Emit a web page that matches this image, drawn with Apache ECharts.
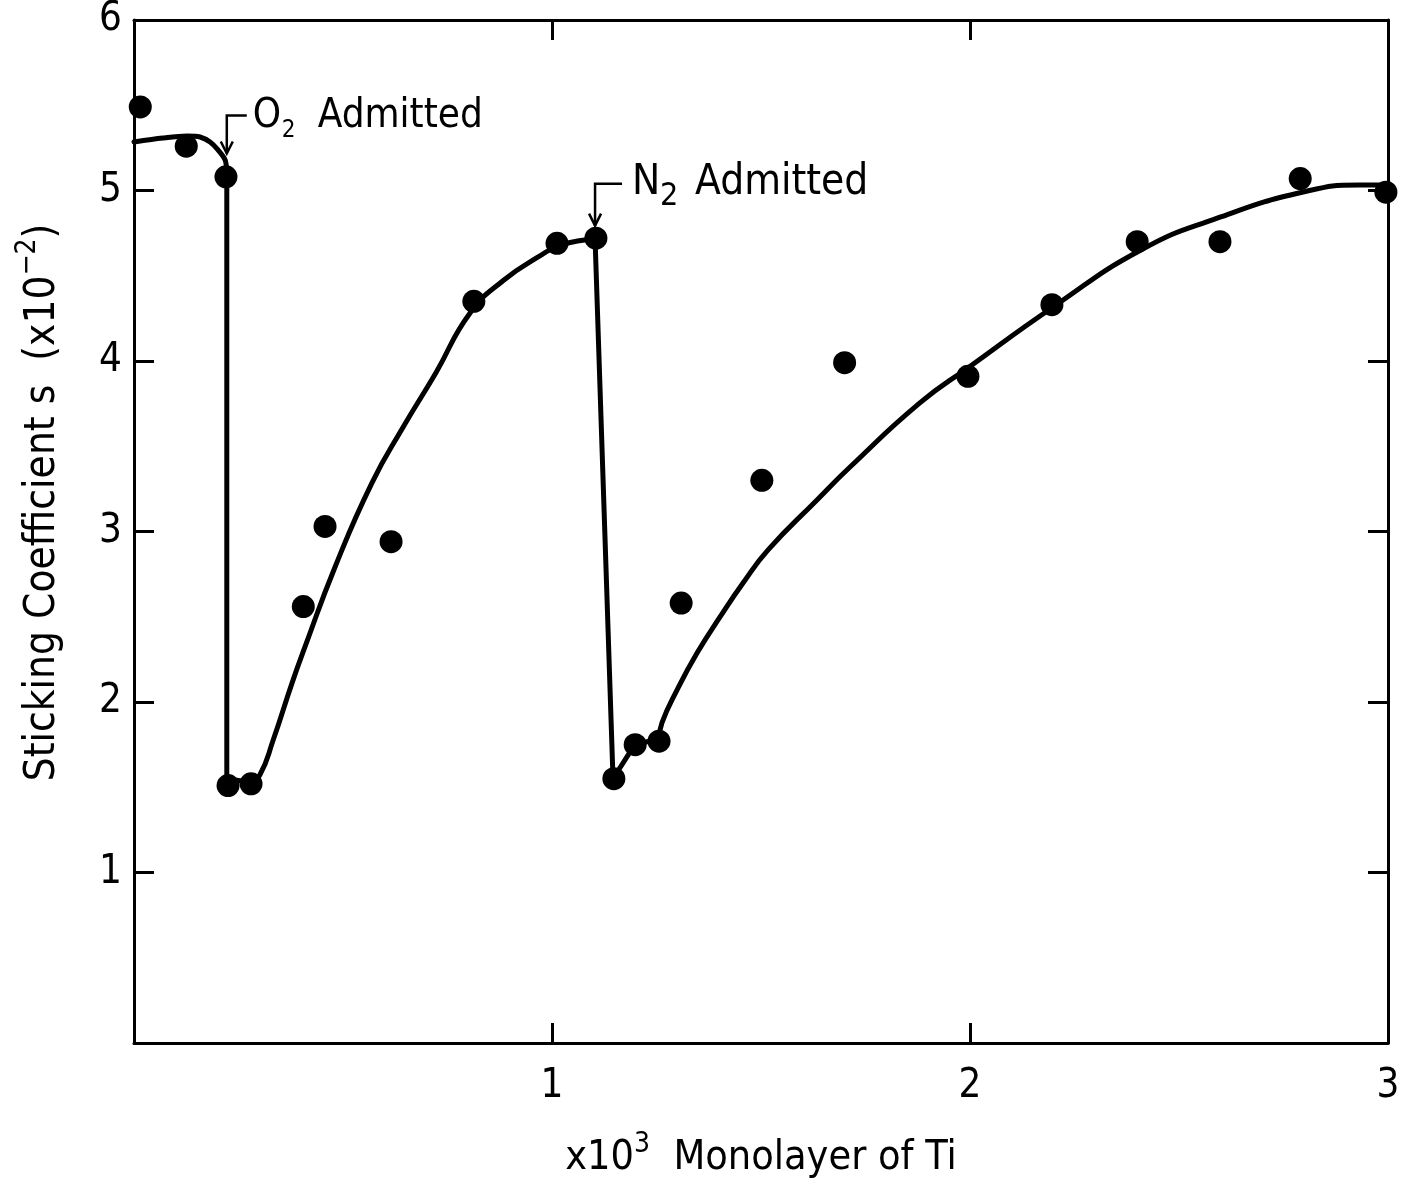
<!DOCTYPE html>
<html><head><meta charset="utf-8">
<script src="https://cdn.jsdelivr.net/npm/echarts@6/dist/echarts.min.js"></script>
<style>html,body{margin:0;padding:0;background:#fff}#c{width:1403px;height:1187px}</style>
</head><body><div id="c"></div>
<script>
// ---- data (x in 10^3 monolayers of Ti, y = sticking coefficient x10^-2) ----
const pointsX = [0.015,0.125,0.22,0.225,0.28,0.405,0.457,0.615,0.813,1.012,1.105,1.148,1.199,1.256,1.309,1.502,1.70,1.995,2.196,2.40,2.598,2.79,2.995];
const pointsY = [5.49,5.26,5.08,1.51,1.52,2.56,3.03,2.94,4.35,4.69,4.72,1.55,1.75,1.77,2.58,3.30,3.99,3.91,4.33,4.70,4.70,5.07,4.99];

// fitted curve
const curveAX = [0, 0.069, 0.127, 0.158, 0.182, 0.201, 0.218, 0.222];
const curveAY = [5.285, 5.308, 5.320, 5.314, 5.284, 5.238, 5.179, 5.10];

const dropAX = [0.222, 0.222, 0.278];
const dropAY = [5.10, 1.55, 1.53];

const curveBX = [0.278, 0.301, 0.333, 0.378, 0.409, 0.481, 0.569, 0.644, 0.722, 0.804, 0.885, 0.967, 1.021, 1.103];
const curveBY = [1.53, 1.572, 1.777, 2.111, 2.323, 2.792, 3.284, 3.613, 3.930, 4.282, 4.475, 4.610, 4.680, 4.716];

const dropBX = [1.103, 1.146, 1.199, 1.256];
const dropBY = [4.716, 1.55, 1.754, 1.78];

const curveCX = [1.256, 1.263, 1.299, 1.347, 1.402, 1.457, 1.517, 1.634, 1.713, 1.880, 1.998, 2.199, 2.409, 2.593, 2.797, 2.931, 2.998];
const curveCY = [1.78, 1.877, 2.070, 2.287, 2.499, 2.698, 2.892, 3.185, 3.378, 3.754, 3.965, 4.317, 4.651, 4.839, 4.991, 5.032, 5.032];

const xTicks = [0, 1, 2, 3];
const yTicks = [0, 1, 2, 3, 4, 5, 6];

// annotation anchors (data units)
const o2Anchor = [0.222, 5.44];
const n2Anchor = [1.103, 5.04];

// ---- chart ----
const F = '"DejaVu Sans Condensed", "Liberation Sans Narrow", "DejaVu Sans", sans-serif';
const zip = (xs, ys) => xs.map((x, i) => [x, ys[i]]);
const chart = echarts.init(document.getElementById('c'), null, {renderer: 'canvas'});

const axLine = {show: true, onZero: false, lineStyle: {color: '#000', width: 3}};
const axTick = {show: true, inside: true, length: 20, lineStyle: {color: '#000', width: 3}};
const lbl = (v) => (v === 0 ? '' : String(v));

const lineSeries = (xs, ys, smooth) => ({
  type: 'line', data: zip(xs, ys), smooth: smooth, symbol: 'none',
  lineStyle: {color: '#000', width: 5, cap: 'round', join: 'round'}, silent: true, z: 2
});

chart.setOption({
  animation: false,
  backgroundColor: '#fff',
  grid: {left: 134, right: 15, top: 20, bottom: 144, show: false},
  xAxis: [
    {type: 'value', min: xTicks[0], max: xTicks[xTicks.length - 1], interval: 1, position: 'bottom',
     axisLine: axLine, axisTick: axTick, splitLine: {show: false},
     axisLabel: {formatter: lbl, fontSize: 40, color: '#000', fontFamily: F, margin: 24},
     name: '{a|x10}{s|3}{a|  Monolayer of Ti}', nameLocation: 'middle', nameGap: 88,
     nameTextStyle: {rich: {
       a: {fontSize: 41, fontFamily: F, color: '#000', lineHeight: 48, verticalAlign: 'bottom'},
       s: {fontSize: 28, fontFamily: F, color: '#000', lineHeight: 28, verticalAlign: 'top'}
     }}},
    {type: 'value', min: xTicks[0], max: xTicks[xTicks.length - 1], interval: 1, position: 'top',
     axisLine: axLine, axisTick: axTick, splitLine: {show: false}, axisLabel: {show: false}}
  ],
  yAxis: [
    {type: 'value', min: yTicks[0], max: yTicks[yTicks.length - 1], interval: 1, position: 'left',
     axisLine: axLine, axisTick: axTick, splitLine: {show: false},
     axisLabel: {formatter: lbl, fontSize: 40, color: '#000', fontFamily: F, margin: 12},
     name: '{a|Sticking Coefficient s  (x10}{s|−2}{a|)}', nameLocation: 'middle', nameGap: 70, nameRotate: 90,
     nameTextStyle: {padding: [0, 0, 0, 58], rich: {
       a: {fontSize: 42, fontFamily: F, color: '#000', lineHeight: 50, verticalAlign: 'bottom'},
       s: {fontSize: 28, fontFamily: F, color: '#000', lineHeight: 28, verticalAlign: 'top'}
     }}},
    {type: 'value', min: yTicks[0], max: yTicks[yTicks.length - 1], interval: 1, position: 'right',
     axisLine: axLine, axisTick: axTick, splitLine: {show: false}, axisLabel: {show: false}}
  ],
  series: [
    lineSeries(curveAX, curveAY, 0.3),
    lineSeries(dropAX, dropAY, false),
    lineSeries(curveBX, curveBY, 0.5),
    lineSeries(dropBX, dropBY, false),
    lineSeries(curveCX, curveCY, 0.5),
    {type: 'scatter', data: zip(pointsX, pointsY), symbol: 'circle', symbolSize: 23,
     itemStyle: {color: '#000', opacity: 1}, z: 3, silent: true}
  ]
});

// ---- annotations ----
function annotation(anchor, hLen, vLen, parts) {
  const p = chart.convertToPixel({gridIndex: 0}, anchor);
  const x = p[0], y = p[1];
  const els = [
    {type: 'polyline', shape: {points: [[x + hLen, y], [x, y], [x, y + vLen]]},
     style: {stroke: '#000', lineWidth: 2.5, fill: null}, z: 10},
    {type: 'polyline', shape: {points: [[x - 6, y + vLen - 12], [x, y + vLen], [x + 6, y + vLen - 12]]},
     style: {stroke: '#000', lineWidth: 2.5, fill: null}, z: 10}
  ];
  parts.forEach(t => {
    els.push({type: 'text', x: x + t.dx, y: y + t.dy, z: 10,
      style: {text: t.text, fontSize: t.size, fontFamily: F, fill: '#000', verticalAlign: 'middle', align: 'left'}});
  });
  return els;
}

chart.setOption({
  graphic: [].concat(
    annotation(o2Anchor, 20, 38, [
      {text: 'O', dx: 26, dy: 1, size: 40},
      {text: '2', dx: 55, dy: 15, size: 24},
      {text: 'Admitted', dx: 91, dy: 1, size: 40}
    ]),
    annotation(n2Anchor, 27, 42, [
      {text: 'N', dx: 37, dy: -1, size: 42},
      {text: '2', dx: 65, dy: 13, size: 32},
      {text: 'Admitted', dx: 100, dy: -1, size: 42}
    ])
  )
});
</script></body></html>
